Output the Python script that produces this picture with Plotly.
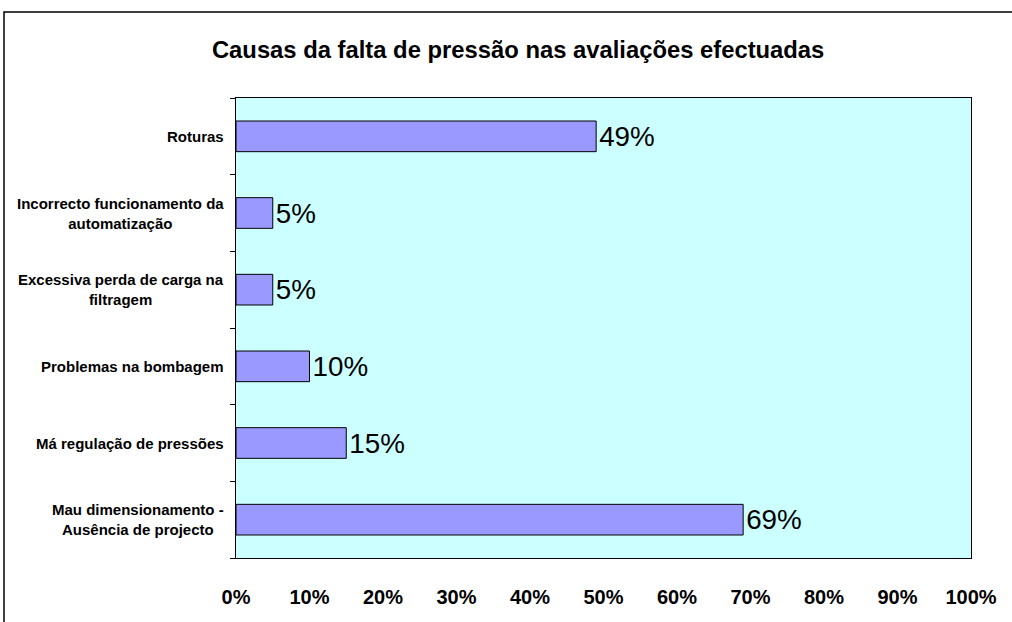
import plotly.graph_objects as go

categories = [
    "Mau dimensionamento -<br>Ausência de projecto",
    "Má regulação de pressões",
    "Problemas na bombagem",
    "Excessiva perda de carga na<br>filtragem",
    "Incorrecto funcionamento da<br>automatização",
    "Roturas",
]
values = [0.69, 0.15, 0.10, 0.05, 0.05, 0.49]
x_ticks = [0, 0.1, 0.2, 0.3, 0.4, 0.5, 0.6, 0.7, 0.8, 0.9, 1.0]
x_tick_labels = ["0%", "10%", "20%", "30%", "40%", "50%", "60%", "70%", "80%", "90%", "100%"]
title = "Causas da falta de pressão nas avaliações efectuadas"

FONT = "Liberation Sans, Arial, sans-serif"

fig = go.Figure(go.Bar(
    y=categories, x=values, orientation="h",
    marker=dict(color="#9999FF", line=dict(color="#000000", width=1)),
    text=[f"{round(v*100)}%" for v in values],
    textposition="outside",
    textfont=dict(family=FONT, size=29, color="#000"),
    cliponaxis=False,
))

fig.update_layout(
    width=1012, height=622,
    margin=dict(l=236, r=41, t=98, b=64),
    paper_bgcolor="#FFFFFF",
    plot_bgcolor="#CCFFFF",
    bargap=0.6,
    showlegend=False,
    title=dict(text=title, x=0.512, xanchor="center", y=0.92, yanchor="middle",
               font=dict(family=FONT, size=23.8, color="#000", weight="bold")),
    font=dict(family=FONT, color="#000"),
)
fig.update_xaxes(
    range=[0, 1], tickvals=x_ticks, ticktext=x_tick_labels,
    showgrid=False, zeroline=False, ticks="", ticklabelstandoff=21,
    tickfont=dict(size=20, weight="bold"),
    showline=True, linecolor="#000", linewidth=1, mirror=True,
)
fig.update_yaxes(
    showgrid=False, ticks="outside", ticklen=5, tickcolor="#000",
    tickson="boundaries", showticklabels=False,
    showline=True, linecolor="#000", linewidth=1, mirror=True,
)

# category labels, centred multi-line like the original
for cat in categories:
    fig.add_annotation(
        x=-10/735, xref="paper", y=cat, yref="y",
        xanchor="right", yanchor="middle", align="center",
        text=cat, showarrow=False,
        font=dict(family=FONT, size=15, color="#000", weight="bold"),
    )

fig.add_shape(type="rect", xref="paper", yref="paper",
              x0=(4-236)/735, x1=1.2, y0=-0.3, y1=(558-12)/460,
              line=dict(color="#000", width=1.5), fillcolor="rgba(0,0,0,0)", layer="below")

fig.write_html("out.html", post_script="document.body.style.margin='0';",
               config={"displayModeBar": False})
